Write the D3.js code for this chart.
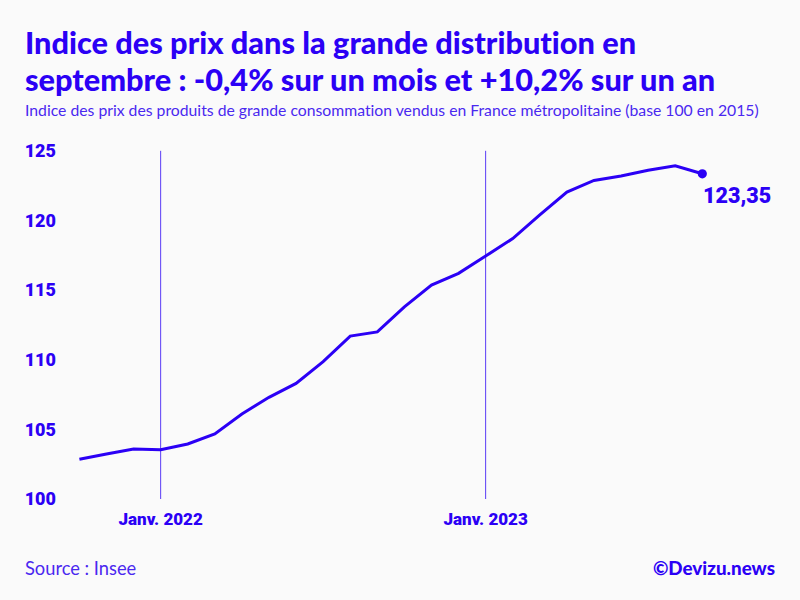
<!DOCTYPE html>
<html><head><meta charset="utf-8">
<script src="https://cdnjs.cloudflare.com/ajax/libs/d3/7.8.5/d3.min.js"></script>
<style>
html,body{margin:0;padding:0;background:#fafafa}
svg{display:block}
text{fill:#2b00f5;font-variant-ligatures:none}
.title{font-family:Lato,sans-serif;font-weight:900;font-size:30.7px}
.sub{font-family:Lato,sans-serif;font-size:15.75px;fill:#4a28f0}
.tick text{font-family:Roboto,sans-serif;font-weight:900}
</style></head><body>
<svg id="c" width="800" height="600"></svg>
<script>
const months = ["2021-10","2021-11","2021-12","2022-01","2022-02","2022-03","2022-04","2022-05","2022-06","2022-07","2022-08","2022-09","2022-10","2022-11","2022-12","2023-01","2023-02","2023-03","2023-04","2023-05","2023-06","2023-07","2023-08","2023-09"];
const values = [102.85,103.23,103.59,103.54,103.95,104.67,106.1,107.3,108.3,109.86,111.7,112.0,113.8,115.36,116.2,117.44,118.7,120.4,122.04,122.87,123.19,123.6,123.93,123.35];
const yTicks = [100,105,110,115,120,125];
const xTickMonths = ["2022-01","2023-01"];
const xTickLabels = ["Janv. 2022","Janv. 2023"];
const titleLines = ["Indice des prix dans la grande distribution en","septembre : -0,4% sur un mois et +10,2% sur un an"];
const subtitle = "Indice des prix des produits de grande consommation vendus en France métropolitaine (base 100 en 2015)";
const source = "Source : Insee";
const credit = "©Devizu.news";
const endLabel = "123,35";

const blue = "#2b00f5";
const svg = d3.select("#c");
const x = d3.scalePoint().domain(months).range([79.4,702.3]);
const y = d3.scaleLinear().domain([100,125]).range([499,150.8]);

svg.selectAll("text.title").data(titleLines).join("text").attr("class","title")
  .attr("x",25).attr("y",(d,i)=>[54,91][i]).text(d=>d);
svg.append("text").attr("class","sub").attr("x",25).attr("y",116).text(subtitle);

const ga = svg.append("g").attr("transform","translate(0,499)")
  .call(d3.axisBottom(x).offset(0).tickValues(xTickMonths).tickSize(y(125)-y(100)).tickPadding(0)
    .tickFormat((d,i)=>xTickLabels[i]));
ga.select(".domain").remove();
ga.selectAll("line").attr("stroke","#5a3cf5").attr("stroke-width",1);
ga.selectAll("text").attr("y",26).attr("dy",0).attr("font-size",17).style("fill",blue);

const gy = svg.append("g").attr("transform","translate(56,0)")
  .call(d3.axisLeft(y).offset(0).tickValues(yTicks).tickSize(0).tickPadding(0));
gy.select(".domain").remove();
gy.selectAll("text").attr("font-size",18).attr("dy","0.35em").style("fill",blue);

svg.append("path").datum(values)
  .attr("fill","none").attr("stroke",blue).attr("stroke-width",3).attr("stroke-linejoin","miter")
  .attr("d",d3.line().x((d,i)=>x(months[i])).y(d=>y(d)));
svg.append("circle").attr("cx",x(months[months.length-1])).attr("cy",y(values[values.length-1])).attr("r",4.6).attr("fill",blue);
svg.append("text").attr("x",703).attr("y",203).attr("font-family","Roboto,sans-serif").attr("font-weight",900).attr("font-size",21.5).text(endLabel);

svg.append("text").attr("x",25).attr("y",575).attr("font-family","Lato,sans-serif").attr("font-size",18.3).style("fill","#4a28f0").text(source);
svg.append("text").attr("x",775).attr("y",575).attr("text-anchor","end").attr("font-family","Lato,sans-serif").attr("font-weight",900).attr("font-size",18.8).text(credit);
</script>
</body></html>
